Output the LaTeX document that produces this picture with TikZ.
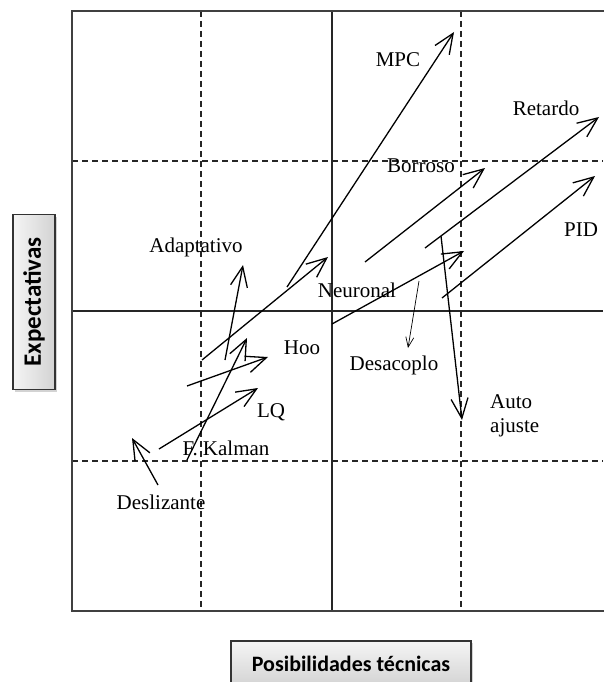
\documentclass[tikz,border=0pt]{standalone}
\usepackage{fontspec}
\setmainfont{Liberation Serif}
\newfontfamily\axisfont{Carlito}
\newcommand{\axistext}[2][22]{{\axisfont\fontsize{#1}{24}\selectfont\bfseries #2}}
\usetikzlibrary{arrows.meta,shadows}

\begin{document}
\begin{tikzpicture}[x=1pt,y=-1pt,
  gridsolid/.style={line width=1.4pt, black!85},
  griddashed/.style={line width=1.2pt, dash pattern=on 6pt off 4pt, black!85},
  framed/.style={line width=1.8pt, black!75},
  trend/.style={line width=1.3pt, -{Straight Barb[length=20pt,width=17pt,line width=1.3pt]}},
  thintrend/.style={line width=0.7pt, -{Straight Barb[length=10pt,width=8pt,line width=0.7pt]}},
  lbl/.style={font=\fontsize{21}{24}\selectfont, inner sep=0pt},
  axisbox/.style={draw=black!80, line width=1.3pt, inner sep=0pt,
    drop shadow={opacity=0.35, shadow xshift=2pt, shadow yshift=-2pt}}
]
\useasboundingbox (0,0) rectangle (603,682);

% quadrant grid
\draw[griddashed] (201,11) -- (201,611);
\draw[griddashed] (461,11) -- (461,611);
\draw[griddashed] (72,161) -- (603,161);
\draw[griddashed] (72,461) -- (603,461);
\draw[gridsolid] (332,11) -- (332,611);
\draw[gridsolid] (72,311) -- (603,311);
\draw[framed] (610,11) -- (72,11) -- (72,611) -- (610,611);

% arrow end points
\coordinate (mpcA) at (287,287);   \coordinate (mpcB) at (454,32);
\coordinate (retA) at (425,248);   \coordinate (retB) at (599,117);
\coordinate (borA) at (365,262);   \coordinate (borB) at (485,168);
\coordinate (pidA) at (442,298);   \coordinate (pidB) at (595,176);
\coordinate (neuA) at (202,360);   \coordinate (neuB) at (328,257);
\coordinate (nelA) at (332,324);   \coordinate (nelB) at (464,251);
\coordinate (autA) at (441,236);   \coordinate (autB) at (462,420);
\coordinate (desA) at (419,281);   \coordinate (desB) at (408,348);
\coordinate (adaA) at (225,360);   \coordinate (adaB) at (243,265);
\coordinate (hooA) at (187,386);   \coordinate (hooB) at (268,357);
\coordinate (kalA) at (187,460);   \coordinate (kalB) at (247,338);
\coordinate (lqA)  at (159,449);   \coordinate (lqB)  at (258,388);
\coordinate (desliA) at (158,485); \coordinate (desliB) at (132,438);

% trends
\draw[trend] (mpcA) -- (mpcB);
\draw[trend] (retA) -- (retB);
\draw[trend] (borA) -- (borB);
\draw[trend] (pidA) -- (pidB);
\draw[trend] (neuA) -- (neuB);
\draw[trend] (nelA) -- (nelB);
\draw[trend] (autA) -- (autB);
\draw[thintrend] (desA) -- (desB);
\draw[trend] (adaA) -- (adaB);
\draw[trend] (hooA) -- (hooB);
\draw[trend] (kalA) -- (kalB);
\draw[trend] (lqA) -- (lqB);
\draw[trend] (desliA) -- (desliB);

% labels
\node[lbl] (mpc) at (398,60) {MPC};
\node[lbl] (retardo) at (546,108) {Retardo};
\node[lbl] (borroso) at (421,166) {Borroso};
\node[lbl] (pid) at (581,230) {PID};
\node[lbl] (adapt) at (196,247) {Adaptativo};
\node[lbl] (neuronal) at (357,290) {Neuronal};
\node[lbl] (hoo) at (302,348) {Hoo};
\node[lbl] (desac) at (394,365) {Desacoplo};
\node[lbl, align=left, anchor=west] (auto) at (490,416) {Auto\\ajuste};
\node[lbl] (lq) at (271,412) {LQ};
\node[lbl] (kalman) at (226,448) {F. Kalman};
\node[lbl] (desliz) at (161,502) {Deslizante};

% axis titles
\node[axisbox, rotate=90, minimum width=175pt, minimum height=42pt,
      left color=gray!8, right color=gray!35] (ylab) at (34,302) {\axistext[25]{Expectativas}};
\node[axisbox, minimum width=240pt, minimum height=46pt,
      top color=gray!8, bottom color=gray!35] (xlab) at (351,664) {\axistext{Posibilidades técnicas}};
\end{tikzpicture}
\end{document}
